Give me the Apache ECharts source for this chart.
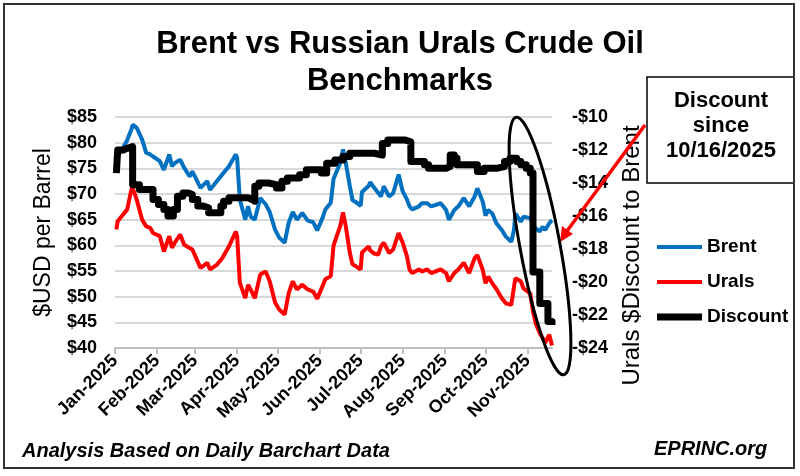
<!DOCTYPE html>
<html>
<head>
<meta charset="utf-8">
<script src="https://cdn.jsdelivr.net/npm/echarts@6/dist/echarts.min.js"></script>
<style>
html,body{margin:0;padding:0;background:#fff;}
#chart{width:800px;height:476px;}
</style>
</head>
<body>
<div id="chart"></div>
<script>
// ---- data ----
const axisStart = '2025-01-01';
const axisEnd = '2025-11-19';
const monthLabels = ['Jan-2025','Feb-2025','Mar-2025','Apr-2025','May-2025','Jun-2025','Jul-2025','Aug-2025','Sep-2025','Oct-2025','Nov-2025'];

const priceDates = ['2025-01-02','2025-01-03','2025-01-07','2025-01-10','2025-01-13','2025-01-14','2025-01-17','2025-01-21','2025-01-24','2025-01-27','2025-01-29','2025-02-03','2025-02-06','2025-02-10','2025-02-12','2025-02-14','2025-02-18','2025-02-21','2025-02-25','2025-02-27','2025-03-05','2025-03-10','2025-03-12','2025-03-17','2025-03-21','2025-03-26','2025-03-31','2025-04-01','2025-04-03','2025-04-07','2025-04-09','2025-04-11','2025-04-14','2025-04-18','2025-04-22','2025-04-25','2025-04-29','2025-05-02','2025-05-06','2025-05-09','2025-05-12','2025-05-15','2025-05-19','2025-05-23','2025-05-27','2025-05-30','2025-06-03','2025-06-05','2025-06-09','2025-06-11','2025-06-13','2025-06-16','2025-06-18','2025-06-20','2025-06-23','2025-06-25','2025-06-27','2025-07-01','2025-07-02','2025-07-07','2025-07-08','2025-07-11','2025-07-14','2025-07-16','2025-07-18','2025-07-22','2025-07-25','2025-07-29','2025-08-01','2025-08-04','2025-08-06','2025-08-08','2025-08-13','2025-08-15','2025-08-19','2025-08-22','2025-08-29','2025-09-02','2025-09-04','2025-09-08','2025-09-11','2025-09-15','2025-09-19','2025-09-23','2025-09-25','2025-09-29','2025-10-01','2025-10-03','2025-10-06','2025-10-09','2025-10-13','2025-10-16','2025-10-20','2025-10-22','2025-10-23','2025-10-27','2025-10-29','2025-11-03','2025-11-05','2025-11-07','2025-11-10','2025-11-12','2025-11-14','2025-11-17','2025-11-19'];

const brent = [77.0,77.4,79.0,80.5,82.5,83.5,82.9,80.6,78.0,77.7,77.3,76.4,74.7,77.7,75.4,76.0,76.7,75.1,73.4,74.4,71.2,72.5,70.8,72.5,73.8,75.4,77.7,77.0,68.9,65.0,67.6,65.6,65.0,69.2,68.0,66.5,63.0,61.5,60.5,64.4,66.5,65.0,66.3,64.8,64.5,62.9,65.4,67.0,68.3,72.9,74.2,76.1,78.7,76.1,71.6,68.8,68.5,67.7,70.4,71.6,72.3,71.2,70.2,69.5,71.5,69.5,70.2,73.8,70.5,69.0,67.6,67.0,67.6,68.2,68.2,67.6,68.2,66.9,65.0,66.9,67.6,69.2,67.6,69.5,71.1,68.5,65.8,66.9,66.2,64.3,63.0,61.7,60.7,63.0,66.2,64.6,65.6,65.3,64.0,63.3,62.7,63.6,63.0,64.3,64.9];

const urals = [63.1,64.7,66.0,67.0,70.8,71.2,68.9,65.0,63.7,63.4,62.4,61.8,58.8,61.8,59.5,60.5,62.1,60.1,59.5,59.2,55.6,56.6,55.3,56.2,57.5,59.8,62.7,61.8,52.7,49.7,52.3,51.4,49.7,54.3,54.9,53.0,48.8,47.5,46.5,50.7,53.0,51.4,52.3,51.4,51.0,49.6,52.1,53.4,54.0,59.9,61.5,63.8,66.4,63.8,58.6,56.3,56.0,55.3,58.6,59.8,59.0,58.4,58.2,59.8,60.5,58.5,59.2,62.4,60.5,58.0,55.3,54.6,55.3,54.9,55.3,54.6,55.3,54.6,53.0,54.6,55.3,56.6,54.6,57.5,58.1,55.2,52.6,53.9,52.6,51.5,49.7,48.7,48.4,51.9,53.6,53.0,51.6,50.6,47.1,44.8,42.9,42.0,41.0,42.6,40.5];

const discountDates = ['2025-01-02','2025-01-03','2025-01-07','2025-01-10','2025-01-14','2025-01-19','2025-01-29','2025-02-02','2025-02-06','2025-02-09','2025-02-13','2025-02-16','2025-02-20','2025-02-24','2025-02-27','2025-03-03','2025-03-07','2025-03-11','2025-03-20','2025-03-22','2025-03-26','2025-04-09','2025-04-12','2025-04-14','2025-04-17','2025-04-24','2025-04-30','2025-05-04','2025-05-08','2025-05-17','2025-05-22','2025-06-02','2025-06-06','2025-06-12','2025-06-18','2025-06-23','2025-07-11','2025-07-17','2025-07-21','2025-08-03','2025-08-07','2025-08-17','2025-08-20','2025-09-02','2025-09-05','2025-09-08','2025-09-10','2025-09-25','2025-09-30','2025-10-10','2025-10-15','2025-10-19','2025-10-24','2025-10-27','2025-10-31','2025-11-03','2025-11-05','2025-11-10','2025-11-16','2025-11-19'];

const discount = [-13.4,-12.0,-11.9,-11.8,-14.1,-14.4,-15.0,-15.3,-15.6,-16.0,-15.6,-14.8,-14.6,-14.7,-15.0,-15.4,-15.5,-15.8,-15.4,-15.1,-14.9,-15.0,-15.1,-14.2,-14.0,-14.1,-14.3,-13.9,-13.7,-13.5,-13.2,-13.4,-12.8,-12.6,-12.4,-12.2,-12.3,-11.6,-11.4,-11.5,-12.7,-12.9,-13.1,-13.0,-12.3,-12.5,-12.9,-13.3,-13.1,-13.0,-12.7,-12.5,-12.7,-12.9,-13.1,-13.4,-19.4,-21.3,-22.4,-22.6];

const leftTicks = {min: 40, max: 85, step: 5};
const rightTicks = {min: -24, max: -10, step: 2};

// ---- build category list of days ----
function dayList(a, b) {
  const out = [];
  let t = Date.UTC(+a.slice(0,4), +a.slice(5,7)-1, +a.slice(8,10));
  const end = Date.UTC(+b.slice(0,4), +b.slice(5,7)-1, +b.slice(8,10));
  while (t <= end) { out.push(new Date(t).toISOString().slice(0,10)); t += 86400000; }
  return out;
}
const days = dayList(axisStart, axisEnd);
const isMonthStart = (i, v) => v.slice(8,10) === '01';

const FONT = '"Liberation Sans", Arial, sans-serif';

const chart = echarts.init(document.getElementById('chart'), null, {renderer: 'canvas'});
chart.setOption({
  backgroundColor: '#fff',
  animation: false,
  title: {
    text: 'Brent vs Russian Urals Crude Oil\nBenchmarks',
    left: 'center', top: 21,
    textStyle: {fontFamily: FONT, fontSize: 31, fontWeight: 'bold', color: '#000', lineHeight: 37, align: 'center'}
  },
  legend: {
    orient: 'vertical', left: 652, top: 232,
    itemWidth: 45, itemHeight: 20, itemGap: 15,
    textStyle: {fontFamily: FONT, fontSize: 19, fontWeight: 'bold', color: '#000', lineHeight: 20},
    data: [
      {name: 'Brent', icon: 'path://M0,0H45V4H0Z'},
      {name: 'Urals', icon: 'path://M0,0H45V4H0Z'},
      {name: 'Discount', icon: 'path://M0,0H45V7H0Z'}
    ]
  },
  grid: {left: 115, right: 248, top: 117, bottom: 128},
  xAxis: {
    type: 'category', data: days, boundaryGap: false,
    axisLine: {show: true, lineStyle: {color: '#bfbfbf', width: 2}},
    axisTick: {show: true, interval: isMonthStart, length: 6, lineStyle: {color: '#bfbfbf', width: 2}},
    axisLabel: {
      interval: isMonthStart, rotate: 45, margin: 10,
      fontFamily: FONT, fontSize: 18, fontWeight: 'bold', color: '#000',
      formatter: v => monthLabels[+v.slice(5,7) - 1]
    },
    splitLine: {show: false}
  },
  yAxis: [
    {
      type: 'value', min: leftTicks.min, max: leftTicks.max, interval: leftTicks.step,
      name: '$USD per Barrel', nameLocation: 'middle', nameGap: 60, nameRotate: 90,
      nameTextStyle: {fontFamily: FONT, fontSize: 23, color: '#000'},
      axisLine: {show: false}, axisTick: {show: false},
      axisLabel: {margin: 18, fontFamily: FONT, fontSize: 18, fontWeight: 'bold', color: '#000', formatter: v => '$' + v},
      splitLine: {show: true, lineStyle: {color: '#d9d9d9', width: 2}}
    },
    {
      type: 'value', position: 'right', min: rightTicks.min, max: rightTicks.max, interval: rightTicks.step,
      name: 'Urals $Discount to Brent', nameLocation: 'middle', nameGap: 68, nameRotate: 90,
      nameTextStyle: {fontFamily: FONT, fontSize: 24, color: '#000', padding: [0, 46, 0, 0]},
      axisLine: {show: false}, axisTick: {show: false},
      axisLabel: {margin: 20, fontFamily: FONT, fontSize: 18, fontWeight: 'bold', color: '#000', formatter: v => '-$' + Math.abs(v)},
      splitLine: {show: false}
    }
  ],
  series: [
    {
      name: 'Brent', type: 'line', yAxisIndex: 0, showSymbol: false, color: '#0070C0',
      lineStyle: {width: 4, color: '#0070C0'},
      data: priceDates.map((d, i) => [d, brent[i]])
    },
    {
      name: 'Urals', type: 'line', yAxisIndex: 0, showSymbol: false, color: '#FF0000',
      lineStyle: {width: 4, color: '#FF0000'},
      data: priceDates.map((d, i) => [d, urals[i]])
    },
    {
      name: 'Discount', type: 'line', yAxisIndex: 1, showSymbol: false, step: 'end', color: '#000',
      lineStyle: {width: 7, color: '#000', join: 'round'},
      data: discountDates.map((d, i) => [d, discount[i]])
    }
  ],
  graphic: [
    {type: 'rect', shape: {x: 4, y: 4, width: 790, height: 464}, style: {fill: 'none', stroke: '#333', lineWidth: 2}, silent: true, z: 100},
    {type: 'rect', shape: {x: 647, y: 77, width: 147, height: 106}, style: {fill: '#fff', stroke: '#000', lineWidth: 1.5}, z: 90},
    {type: 'text', x: 721, y: 126, z: 95, style: {text: 'Discount\nsince\n10/16/2025', fill: '#000', font: 'bold 22px ' + FONT, align: 'center', verticalAlign: 'middle', lineHeight: 25}},
    {type: 'line', shape: {x1: 645, y1: 125, x2: 567, y2: 231}, style: {stroke: '#FF0000', lineWidth: 3.5}, z: 90},
    {type: 'polygon', shape: {points: [[560, 242], [573, 234], [562, 226]]}, style: {fill: '#FF0000'}, z: 90},
    {type: 'ellipse', x: 540, y: 246, rotation: 0.183, shape: {cx: 0, cy: 0, rx: 20, ry: 131}, style: {fill: 'none', stroke: '#000', lineWidth: 3}, z: 90},
    {type: 'text', left: 22, top: 441, z: 95, style: {text: 'Analysis Based on Daily Barchart Data', fill: '#000', font: 'italic bold 20px ' + FONT}},
    {type: 'text', left: 654, top: 439, z: 95, style: {text: 'EPRINC.org', fill: '#000', font: 'italic bold 20px ' + FONT}}
  ]
});
</script>
</body>
</html>
